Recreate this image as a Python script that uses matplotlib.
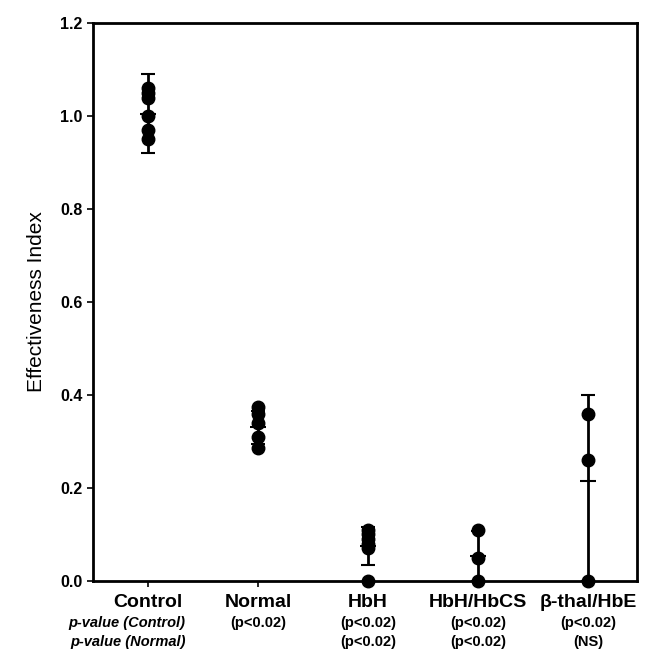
import numpy as np
import matplotlib
matplotlib.use("Agg")
import matplotlib.pyplot as plt
import matplotlib.transforms as mtransforms

plt.rcParams['font.family'] = ['Liberation Sans', 'DejaVu Sans']

# groups and individual values
groups = ["Control", "Normal", "HbH", "HbH/HbCS", "\u03b2-thal/HbE"]
control_vals = [1.06, 1.05, 1.04, 1.00, 0.97, 0.95]
normal_vals = [0.375, 0.36, 0.34, 0.31, 0.285]
hbh_vals = [0.11, 0.10, 0.09, 0.08, 0.07, 0.0]
hbcs_vals = [0.11, 0.05, 0.0]
bthal_vals = [0.36, 0.26, 0.0]
all_vals = [control_vals, normal_vals, hbh_vals, hbcs_vals, bthal_vals]

# mean and error bar extents (below / above the mean)
means = [1.005, 0.33, 0.075, 0.053, 0.215]
err_low = [0.085, 0.035, 0.04, 0.053, 0.215]
err_high = [0.085, 0.035, 0.04, 0.055, 0.185]

p_control = ["p-value (Control)", "(p<0.02)", "(p<0.02)", "(p<0.02)", "(p<0.02)"]
p_normal = ["p-value (Normal)", "", "(p<0.02)", "(p<0.02)", "(NS)"]

fig = plt.figure(figsize=(6.47, 6.63), dpi=100)
ax = fig.add_axes([0.144, 0.124, 0.841, 0.841])

x = np.arange(len(groups))
for i, vals in enumerate(all_vals):
    ax.plot([x[i]] * len(vals), vals, 'o', color='black', ms=9,
            clip_on=False, zorder=3)
    ax.errorbar(x[i], means[i], yerr=[[err_low[i]], [err_high[i]]], fmt='_',
                color='black', ms=12, mew=1.5, elinewidth=2, capsize=5,
                capthick=2, clip_on=False, zorder=2)

ax.set_xlim(-0.5, 4.45)
ax.set_ylim(0, 1.2)
ax.set_yticks(np.arange(0, 1.21, 0.2))
ax.set_yticklabels(["%.1f" % v for v in np.arange(0, 1.21, 0.2)],
                   fontsize=11.5, fontweight='bold')
ax.set_xticks(x)
ax.set_xticklabels([])
ax.tick_params(axis='both', direction='out', length=4, width=1.2)
for side in ['left', 'bottom', 'top', 'right']:
    ax.spines[side].set_linewidth(2)

ax.set_ylabel("Effectiveness Index", fontsize=15, labelpad=10)

trans = mtransforms.blended_transform_factory(ax.transData, ax.transAxes)
for i, name in enumerate(groups):
    ax.text(x[i], -0.024, name, transform=trans, ha='center', va='top',
            fontsize=14, fontweight='bold')
    if i == 0:
        ax.text(x[i] + 0.34, -0.064, p_control[i], transform=trans, ha='right',
                va='top', fontsize=10.5, fontweight='bold', style='italic')
        ax.text(x[i] + 0.34, -0.098, p_normal[i], transform=trans, ha='right',
                va='top', fontsize=10.5, fontweight='bold', style='italic')
    else:
        ax.text(x[i], -0.064, p_control[i], transform=trans, ha='center',
                va='top', fontsize=10.5, fontweight='bold')
        ax.text(x[i], -0.098, p_normal[i], transform=trans, ha='center',
                va='top', fontsize=10.5, fontweight='bold')

fig.savefig("out.png", dpi=100)
